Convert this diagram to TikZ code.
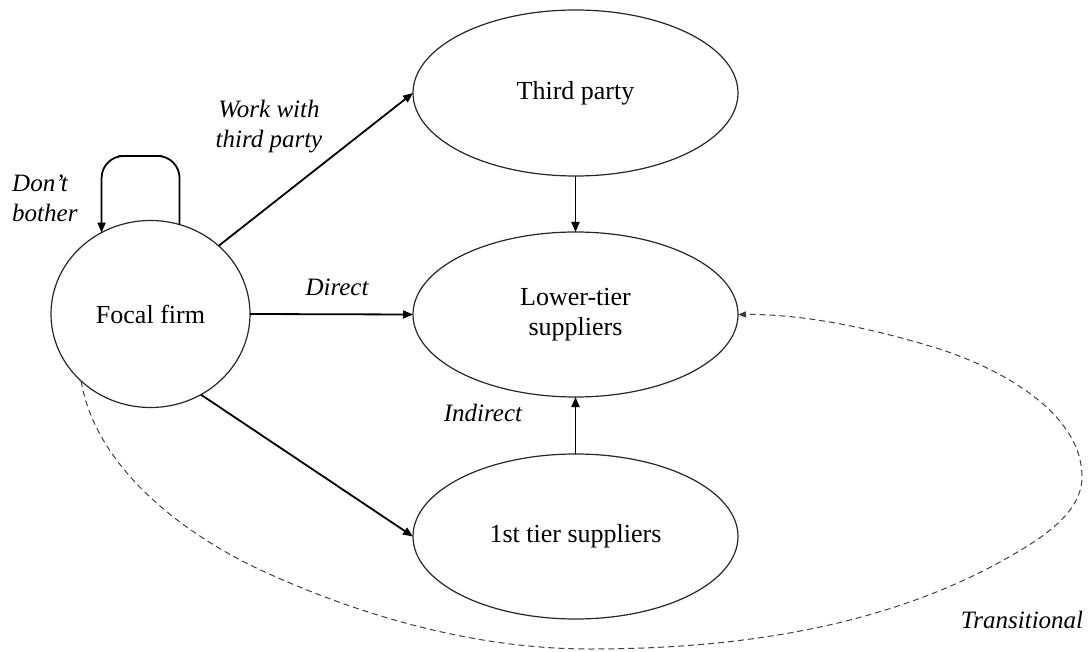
\documentclass[tikz,border=0pt]{standalone}
\usepackage{fontspec}
\setmainfont{Liberation Serif}
\usetikzlibrary{shapes.geometric,arrows.meta}
\begin{document}
\begin{tikzpicture}[x=1pt,y=-1pt,
  state/.style={draw=black!85, line width=1.2pt, ellipse, inner sep=0pt, outer sep=0pt,
    font=\fontsize{26}{30}\selectfont, align=center},
  flow/.style={line width=1.8pt, -{Triangle[length=10pt,width=8pt]}},
  lbl/.style={font=\fontsize{25}{30}\selectfont\itshape, align=center, inner sep=0pt},
  trans/.style={dash pattern=on 6pt off 4pt, line width=1pt, draw=black!75,
    -{Triangle[length=8pt,width=6pt]}}]
\useasboundingbox (0,0) rectangle (1090,652);

% actors
\node[state, minimum width=199pt, minimum height=187pt] (focal) at (150.5,314) {Focal firm};
\node[state, minimum width=325pt, minimum height=166pt] (third) at (575.5,93) {Third party};
\node[state, minimum width=325pt, minimum height=165pt] (lower) at (575.5,314.5) {Lower-tier\\suppliers};
\node[state, minimum width=325pt, minimum height=165pt] (first) at (575.5,536.5) {1st tier suppliers};

% relations
\draw[flow] (focal.45) -- (third.west);
\draw[flow] (focal.east) -- (lower.west);
\draw[flow] (focal.-58) -- (first.west);
\draw[flow] (third.south) -- (lower.north);
\draw[flow] (first.north) -- (lower.south);
\draw[flow, rounded corners=22pt] (focal.72) |- (140,156) -| (focal.121);

% transitional route around the suppliers
\draw[trans] (focal.224)
  .. controls (96,469) and (186,536.5) .. (267,573)
  .. controls (368,618.5) and (479,649) .. (590,649)
  .. controls (730,649) and (877,629.5) .. (1000,562)
  .. controls (1034,543) and (1082,516) .. (1082,477)
  .. controls (1082,411) and (996,366) .. (933,347)
  .. controls (870,328) and (804,314) .. (lower.east);

% labels
\node[lbl, align=left, anchor=west] (dontlbl) at (12,198) {Don’t\\bother};
\node[lbl] (worklbl) at (269,127) {Work with\\third party};
\node[lbl] (directlbl) at (337,287) {Direct};
\node[lbl] (indirectlbl) at (483,413) {Indirect};
\node[lbl] (translbl) at (1022,620) {Transitional};
\end{tikzpicture}
\end{document}
